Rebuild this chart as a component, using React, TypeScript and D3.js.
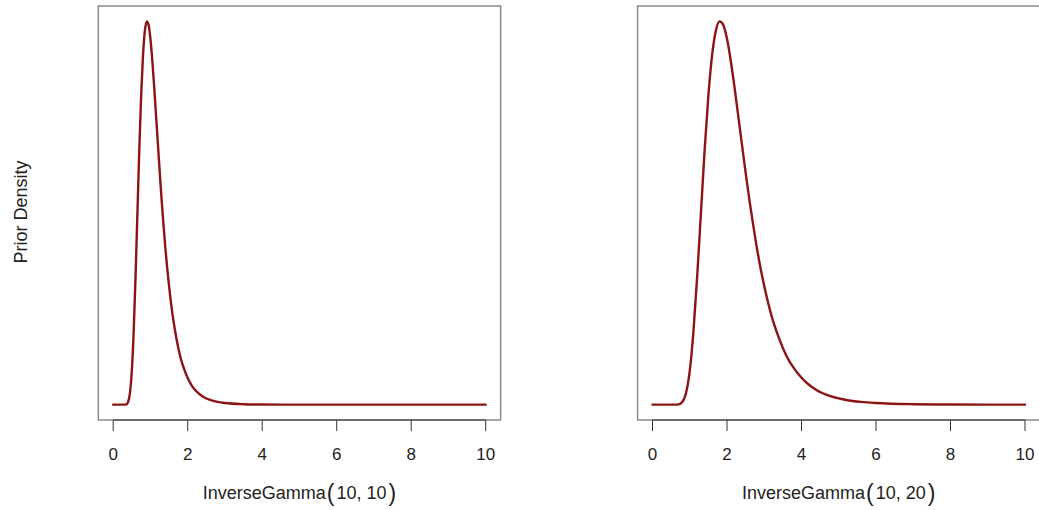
import React from "react";
import * as d3 from "d3";

// Prior density curves, sampled along x
const leftX = [0, 0.3, 0.35, 0.4, 0.45, 0.5, 0.55, 0.6, 0.65, 0.7, 0.75, 0.8, 0.85, 0.9, 0.95, 1.0, 1.05, 1.1, 1.15, 1.2, 1.25, 1.3, 1.35, 1.4, 1.45, 1.5, 1.6, 1.7, 1.8, 1.9, 2.0, 2.1, 2.2, 2.4, 2.6, 2.8, 3.0, 3.5, 4.0, 5.0, 6.0, 10];
const leftDensity = [0, 0, 0.001, 0.009, 0.04, 0.116, 0.251, 0.439, 0.655, 0.871, 1.057, 1.195, 1.279, 1.312, 1.3, 1.251, 1.178, 1.088, 0.99, 0.892, 0.794, 0.701, 0.617, 0.537, 0.467, 0.406, 0.302, 0.225, 0.165, 0.123, 0.091, 0.067, 0.05, 0.028, 0.016, 0.0093, 0.0055, 0.0016, 0.0005, 0.0001, 0, 0];

const rightX = [0, 0.6, 0.7, 0.8, 0.9, 1.0, 1.1, 1.2, 1.3, 1.4, 1.5, 1.6, 1.7, 1.8, 1.9, 2.0, 2.1, 2.2, 2.3, 2.4, 2.5, 2.6, 2.7, 2.8, 2.9, 3.0, 3.2, 3.4, 3.6, 3.8, 4.0, 4.2, 4.4, 4.8, 5.2, 5.6, 6.0, 7.0, 8.0, 10];
const rightDensity = [0, 0, 0.0005, 0.0045, 0.02, 0.058, 0.126, 0.22, 0.328, 0.436, 0.529, 0.598, 0.64, 0.656, 0.65, 0.626, 0.589, 0.544, 0.495, 0.446, 0.397, 0.351, 0.309, 0.269, 0.234, 0.203, 0.151, 0.113, 0.083, 0.062, 0.046, 0.034, 0.025, 0.014, 0.008, 0.0047, 0.0028, 0.0008, 0.00025, 0];

const xTicks = [0, 2, 4, 6, 8, 10];
const shapeParam = [10, 10];
const scaleParam = [10, 20];

const FONT = "'Liberation Sans', Arial, Helvetica, sans-serif";
const LINE = "#8b1414";

type PanelProps = {
  left: number;
  xs: number[];
  ys: number[];
  shape: number;
  scale: number;
};

function Panel({ left, xs, ys, shape, scale }: PanelProps) {
  const boxW = 402.3;
  const top = 6;
  const bottom = 420;
  const xDom: [number, number] = [0, 10];
  const xPad = (xDom[1] - xDom[0]) * 0.04;
  const x = d3.scaleLinear().domain([xDom[0] - xPad, xDom[1] + xPad]).range([left, left + boxW]);
  const yMin = d3.min(ys) as number;
  const yMax = d3.max(ys) as number;
  const yPad = (yMax - yMin) * 0.04;
  const y = d3.scaleLinear().domain([yMin - yPad, yMax + yPad]).range([bottom, top]);

  const pts = xs.map((v, i) => [v, ys[i]] as [number, number]);
  const line = d3
    .line<[number, number]>()
    .x((d) => x(d[0]))
    .y((d) => y(d[1]))
    .curve(d3.curveMonotoneX);

  const cx = left + boxW / 2;

  return (
    <g>
      <rect x={left} y={top} width={boxW} height={bottom - top} fill="none" stroke="#8a8a8a" strokeWidth={1.5} />
      <path d={line(pts) || ""} fill="none" stroke={LINE} strokeWidth={2.4} strokeLinejoin="round" strokeLinecap="round" />
      <line x1={x(xTicks[0])} x2={x(xTicks[xTicks.length - 1])} y1={bottom} y2={bottom} stroke="#333" strokeWidth={1} />
      {xTicks.map((t) => (
        <g key={t}>
          <line x1={x(t)} x2={x(t)} y1={bottom} y2={bottom + 11} stroke="#333" strokeWidth={1} />
          <text x={x(t)} y={460} textAnchor="middle" fontFamily={FONT} fontSize={17} fill="#222">
            {t}
          </text>
        </g>
      ))}
      <text x={cx} y={499} textAnchor="middle" fontFamily={FONT} fontSize={18} fill="#222">
        <tspan>InverseGamma</tspan>
        <tspan fontSize={23} dx={1} dy={1.5}>(</tspan>
        <tspan dx={2} dy={-1.5}>{`${shape}, ${scale}`}</tspan>
        <tspan fontSize={23} dx={2} dy={1.5}>)</tspan>
      </text>
    </g>
  );
}

export default function App() {
  return (
    <svg width={1039} height={510} style={{ position: "absolute", left: 0, top: 0, background: "#fff" }}>
      <rect x={0} y={0} width={1039} height={510} fill="#fff" />
      <text
        transform="translate(27,212) rotate(-90)"
        textAnchor="middle"
        fontFamily={FONT}
        fontSize={18}
        fill="#222"
      >
        Prior Density
      </text>
      <Panel left={98.3} xs={leftX} ys={leftDensity} shape={shapeParam[0]} scale={scaleParam[0]} />
      <Panel left={637.6} xs={rightX} ys={rightDensity} shape={shapeParam[1]} scale={scaleParam[1]} />
    </svg>
  );
}
